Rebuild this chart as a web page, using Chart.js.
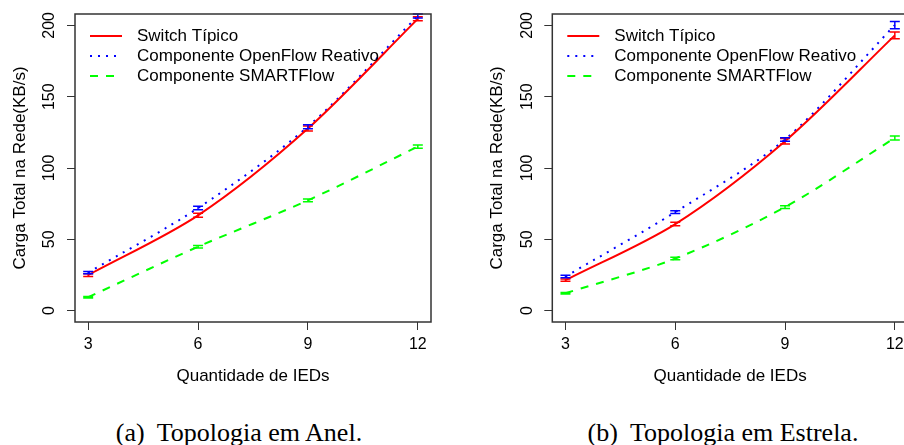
<!DOCTYPE html>
<html>
<head>
<meta charset="utf-8">
<script src="https://cdn.jsdelivr.net/npm/chart.js@4.4.1/dist/chart.umd.min.js"></script>
<style>
  html, body { margin: 0; padding: 0; background: #fff; overflow: hidden; }
  body { width: 904px; height: 445px; position: relative; }
  .panel { position: absolute; top: 0; height: 392px; }
  #wrapA { left: 0; width: 452px; }
  #wrapB { left: 452px; width: 470px; }
  .caption { position: absolute; top: 419px; line-height: 28px; font-family: "Liberation Serif", "Times New Roman", serif;
             font-size: 26px; white-space: nowrap; transform: translateX(-50%); color: #000; }
  .caption span { margin-right: 12px; }
</style>
</head>
<body>
<div class="panel" id="wrapA"><canvas id="anel"></canvas></div>
<div class="panel" id="wrapB"><canvas id="estrela"></canvas></div>
<div class="caption" style="left:239px"><span>(a)</span>Topologia em Anel.</div>
<div class="caption" style="left:723px"><span>(b)</span>Topologia em Estrela.</div>

<script>
var ieds = [3, 6, 9, 12];
var xTicks = [3, 6, 9, 12];
var yTicks = [0, 50, 100, 150, 200];
var seriesNames = ['Switch Típico', 'Componente OpenFlow Reativo', 'Componente SMARTFlow'];

// (a) topologia em anel
var anelSwitch      = [24.9, 66.8, 127.7, 204.6];
var anelOpenflow    = [26.7, 71.9, 129.0, 206.6];
var anelSmart       = [9.4, 44.8, 77.3, 115.0];
var anelSwitchErr   = [1.0, 1.4, 1.8, 1.4];
var anelOpenflowErr = [0.8, 1.2, 1.4, 1.4];
var anelSmartErr    = [0.5, 0.9, 1.0, 1.2];

// (b) topologia em estrela
var estrelaSwitch      = [21.3, 60.7, 118.8, 193.0];
var estrelaOpenflow    = [23.9, 69.1, 120.0, 200.2];
var estrelaSmart       = [12.2, 36.5, 72.6, 121.1];
var estrelaSwitchErr   = [0.8, 1.2, 1.9, 2.3];
var estrelaOpenflowErr = [0.8, 1.0, 1.3, 2.6];
var estrelaSmartErr    = [0.5, 0.9, 1.0, 1.4];

var FONT = '"Liberation Sans", Arial, Helvetica, sans-serif';

function makeSet(label, values, errs, color, dash) {
    return {
        label: label,
        data: ieds.map(function (x, i) { return { x: x, y: values[i] }; }),
        errs: errs,
        borderColor: color,
        backgroundColor: color,
        borderWidth: 2,
        borderDash: dash,
        borderCapStyle: 'butt',
        pointRadius: 0,
        fill: false,
        tension: 0.3
    };
}

// box around plot + error bars + legend + rotated y labels, R style
var rStyle = {
    id: 'rStyle',
    afterDatasetsDraw: function (chart) {
        var ctx = chart.ctx, a = chart.chartArea;
        var xs = chart.scales.x, ys = chart.scales.y;
        ctx.save();
        chart.data.datasets.forEach(function (ds) {
            ctx.strokeStyle = ds.borderColor;
            ctx.lineWidth = 1.5;
            ctx.setLineDash([]);
            ds.data.forEach(function (p, i) {
                var e = ds.errs[i];
                var px = xs.getPixelForValue(p.x);
                var lo = ys.getPixelForValue(p.y - e);
                var hi = ys.getPixelForValue(p.y + e);
                ctx.beginPath();
                ctx.moveTo(px, lo); ctx.lineTo(px, hi);
                ctx.moveTo(px - 5, lo); ctx.lineTo(px + 5, lo);
                ctx.moveTo(px - 5, hi); ctx.lineTo(px + 5, hi);
                ctx.stroke();
            });
        });

        // legend
        ctx.font = '17px ' + FONT;
        ctx.textBaseline = 'middle';
        ctx.textAlign = 'left';
        chart.data.datasets.forEach(function (ds, i) {
            var y = a.top + 22 + i * 20;
            ctx.strokeStyle = ds.borderColor;
            ctx.lineWidth = 2;
            ctx.setLineDash(ds.borderDash || []);
            ctx.beginPath();
            ctx.moveTo(a.left + 15, y); ctx.lineTo(a.left + 47, y);
            ctx.stroke();
            ctx.fillStyle = '#000';
            ctx.fillText(ds.label, a.left + 62, y);
        });

        // y tick labels, rotated like R's default las=0
        ctx.font = '16px ' + FONT;
        ctx.textAlign = 'center';
        ctx.fillStyle = '#000';
        ys.ticks.forEach(function (t, i) {
            ctx.save();
            ctx.translate(a.left - 25, ys.getPixelForTick(i));
            ctx.rotate(-Math.PI / 2);
            ctx.fillText(t.label, 0, 0);
            ctx.restore();
        });

        ctx.setLineDash([]);
        ctx.strokeStyle = '#333';
        ctx.lineWidth = 1.5;
        ctx.strokeRect(a.left, a.top, a.right - a.left, a.bottom - a.top);
        ctx.restore();
    }
};

function makeChart(id, sets, padLeft, yWidth, padRight) {
    return new Chart(document.getElementById(id), {
        type: 'line',
        data: { datasets: sets },
        options: {
            responsive: true,
            maintainAspectRatio: false,
            animation: false,
            layout: { padding: { left: padLeft, right: padRight, top: 14, bottom: 5.4 } },
            plugins: { legend: { display: false }, tooltip: { enabled: false } },
            scales: {
                x: {
                    type: 'linear',
                    min: 2.64, max: 12.36,
                    afterBuildTicks: function (s) { s.ticks = xTicks.map(function (v) { return { value: v }; }); },
                    afterFit: function (s) { s.height = 64.6; },
                    grid: { drawOnChartArea: false, tickLength: 8, color: '#333', lineWidth: 1 },
                    border: { display: false },
                    ticks: { color: '#000', padding: 5.4, maxRotation: 0, font: { size: 16, family: FONT } },
                    title: { display: true, text: 'Quantidade de IEDs', color: '#000', padding: 0,
                             font: { size: 17, family: FONT } }
                },
                y: {
                    min: -8, max: 208,
                    afterBuildTicks: function (s) { s.ticks = yTicks.map(function (v) { return { value: v }; }); },
                    afterFit: function (s) { s.width = yWidth; },
                    grid: { drawOnChartArea: false, tickLength: 8, color: '#333', lineWidth: 1 },
                    border: { display: false },
                    ticks: { display: false, font: { size: 16, family: FONT } },
                    title: { display: true, text: 'Carga Total na Rede(KB/s)', color: '#000', padding: 0,
                             font: { size: 17, family: FONT } }
                }
            }
        },
        plugins: [rStyle]
    });
}

makeChart('anel', [
    makeSet(seriesNames[0], anelSwitch, anelSwitchErr, '#ff0000', []),
    makeSet(seriesNames[1], anelOpenflow, anelOpenflowErr, '#0000ff', [2, 6]),
    makeSet(seriesNames[2], anelSmart, anelSmartErr, '#00ff00', [8, 8])
], 10.2, 64.8, 21);

makeChart('estrela', [
    makeSet(seriesNames[0], estrelaSwitch, estrelaSwitchErr, '#ff0000', []),
    makeSet(seriesNames[1], estrelaOpenflow, estrelaOpenflowErr, '#0000ff', [2, 6]),
    makeSet(seriesNames[2], estrelaSmart, estrelaSmartErr, '#00ff00', [8, 8])
], 34.7, 65.6, 14);
</script>
</body>
</html>
